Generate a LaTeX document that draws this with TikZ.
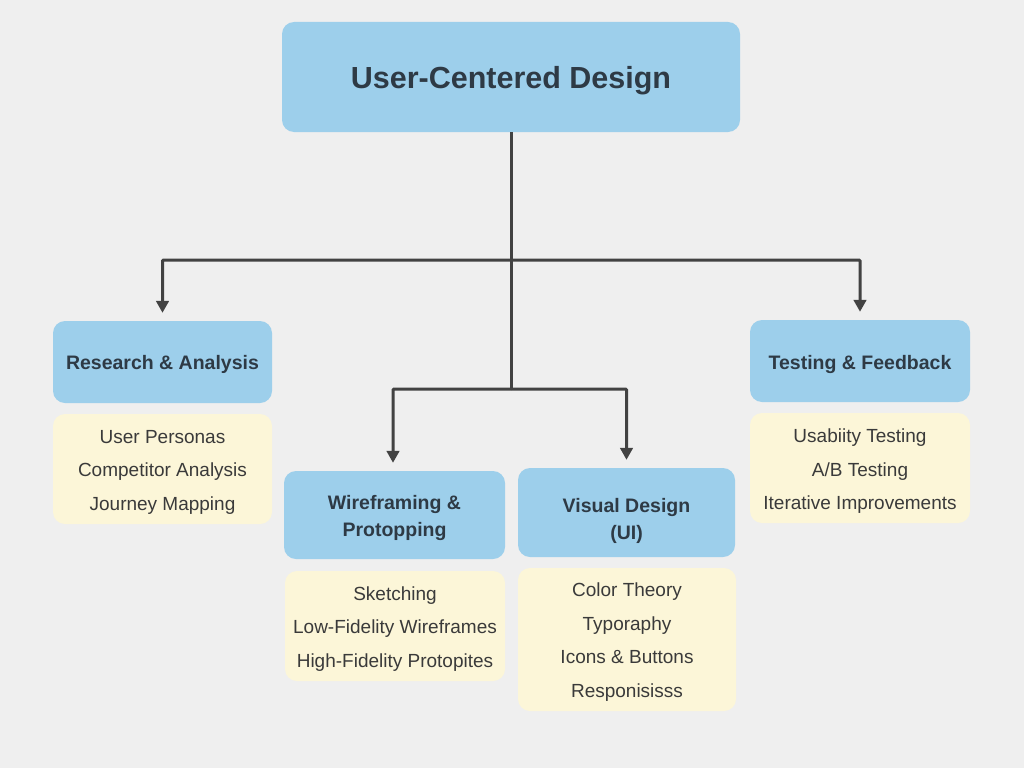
\documentclass[tikz,border=0pt]{standalone}
\usepackage{fontspec}
\setmainfont{Liberation Sans}
\usetikzlibrary{arrows.meta}
\definecolor{bg}{HTML}{EFEFEF}
\definecolor{headblue}{HTML}{9DCFEB}
\definecolor{detyellow}{HTML}{FCF6D8}
\definecolor{headtext}{HTML}{2E3A45}
\definecolor{bodytext}{HTML}{3A3A3A}
\definecolor{linecol}{HTML}{424242}
\tikzset{
  headbox/.style={fill=headblue, draw=none, rounded corners=12pt, inner sep=0pt},
  detbox/.style={fill=detyellow, draw=none, rounded corners=12pt, inner sep=0pt},
  headtxt/.style={align=center, text=headtext, font=\fontsize{19.5}{27}\selectfont\bfseries, inner sep=0pt},
  bodytxt/.style={align=center, text=bodytext, font=\fontsize{19}{33.5}\selectfont, inner sep=0pt},
  conn/.style={draw=linecol, line width=3pt},
  arr/.style={conn, -{Triangle[width=12.5pt,length=12pt]}, shorten >=8pt},
}
\begin{document}
\begin{tikzpicture}[x=1pt,y=-1pt]
\fill[bg] (0,0) rectangle (1024,768);
\useasboundingbox (0,0) rectangle (1024,768);

\node[headbox, minimum width=458pt, minimum height=110pt] (top) at (511,77) {};
\node[headtxt, font=\fontsize{30.5}{36}\selectfont\bfseries] (topT) at ([yshift=-4pt]top.center) {User-Centered Design};

\node[headbox, minimum width=219pt, minimum height=82pt] (res) at (162.5,362) {};
\node[headtxt] (resT) at ([yshift=-2.5pt]res.center) {Research \& Analysis};
\node[detbox, minimum width=219pt, minimum height=110pt] (resd) at (162.5,469) {};
\node[bodytxt] (resdT) at ([yshift=-3pt]resd.center) {User Personas\\Competitor Analysis\\Journey Mapping};

\node[headbox, minimum width=220pt, minimum height=82pt] (test) at (860,361) {};
\node[headtxt] (testT) at ([yshift=-3pt]test.center) {Testing \& Feedback};
\node[detbox, minimum width=220pt, minimum height=110pt] (testd) at (860,468) {};
\node[bodytxt] (testdT) at ([yshift=-3.5pt]testd.center) {Usabiity Testing\\A/B Testing\\Iterative Improvements};

\node[headbox, minimum width=221pt, minimum height=88pt] (wire) at (394.5,515) {};
\node[headtxt] (wireT) at ([yshift=-3pt]wire.center) {Wireframing \&\\Protopping};
\node[detbox, minimum width=220pt, minimum height=110pt] (wired) at (395,626) {};
\node[bodytxt] (wiredT) at ([yshift=-3pt]wired.center) {Sketching\\Low-Fidelity Wireframes\\High-Fidelity Protopites};

\node[headbox, minimum width=217pt, minimum height=89pt] (vis) at (626.5,512.5) {};
\node[headtxt] (visT) at ([yshift=-8pt]vis.center) {Visual Design\\(UI)};
\node[detbox, minimum width=218pt, minimum height=143pt] (visd) at (627,639.5) {};
\node[bodytxt] (visdT) at ([yshift=-2.5pt]visd.center) {Color Theory\\Typoraphy\\Icons \& Buttons\\Responisisss};

\coordinate (j1) at (511,260);
\coordinate (j2) at (511,389);
\draw[conn] (top.south) -- (j2);
\draw[arr, rounded corners=1pt] (j1) -| (res.north);
\draw[arr, rounded corners=1pt] (j1) -| (test.north);
\draw[arr, rounded corners=1pt] (j2) -| ([xshift=-1.5pt]wire.north);
\draw[arr, rounded corners=1pt] (j2) -| (vis.north);
\end{tikzpicture}
\end{document}
